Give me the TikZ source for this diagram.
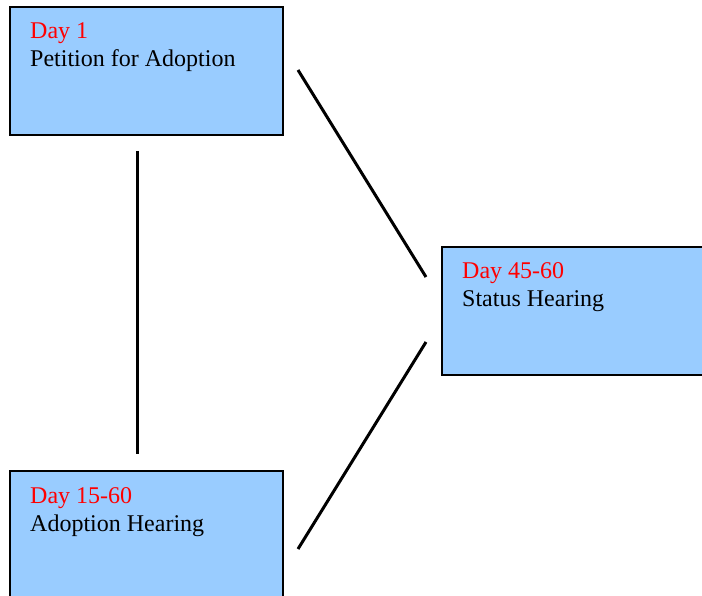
\documentclass[tikz,border=0pt]{standalone}
\usepackage{fontspec}
\setmainfont{Liberation Serif}
\definecolor{boxfill}{HTML}{99CCFF}
\definecolor{dayred}{HTML}{FF0000}
\begin{document}
\begin{tikzpicture}[x=1pt,y=-1pt,
  stagebox/.style={draw=black, line width=1.8pt, fill=boxfill, rectangle,
    minimum width=273pt, minimum height=128pt, anchor=north west, inner sep=0pt},
  stagetext/.style={anchor=base west, inner sep=0pt, font=\fontsize{24pt}{28pt}\selectfont},
  link/.style={draw=black, line width=3pt}]
\useasboundingbox (0,0) rectangle (702,596);
\clip (0,0) rectangle (702,596);
% stage boxes
\node[stagebox] (petition) at (9,6) {};
\node[stagebox] (status) at (441,246) {};
\node[stagebox] (hearing) at (9,470) {};
% labels
\node[stagetext, text=dayred] (d1) at (30,39) {Day 1};
\node[stagetext] (t1) at (30,67) {Petition for Adoption};
\node[stagetext, text=dayred] (d2) at (462,279) {Day 45-60};
\node[stagetext] (t2) at (462,307) {Status Hearing};
\node[stagetext, text=dayred] (d3) at (30,503) {Day 15-60};
\node[stagetext] (t3) at (30,531) {Adoption Hearing};
% connectors
\coordinate (a1) at (137.5,151);
\coordinate (a2) at (137.5,454);
\coordinate (b1) at (298,70);
\coordinate (b2) at (426,277);
\coordinate (c1) at (298,549);
\coordinate (c2) at (426,342);
\draw[link] (a1) -- (a2);
\draw[link] (b1) -- (b2);
\draw[link] (c1) -- (c2);
\end{tikzpicture}
\end{document}
